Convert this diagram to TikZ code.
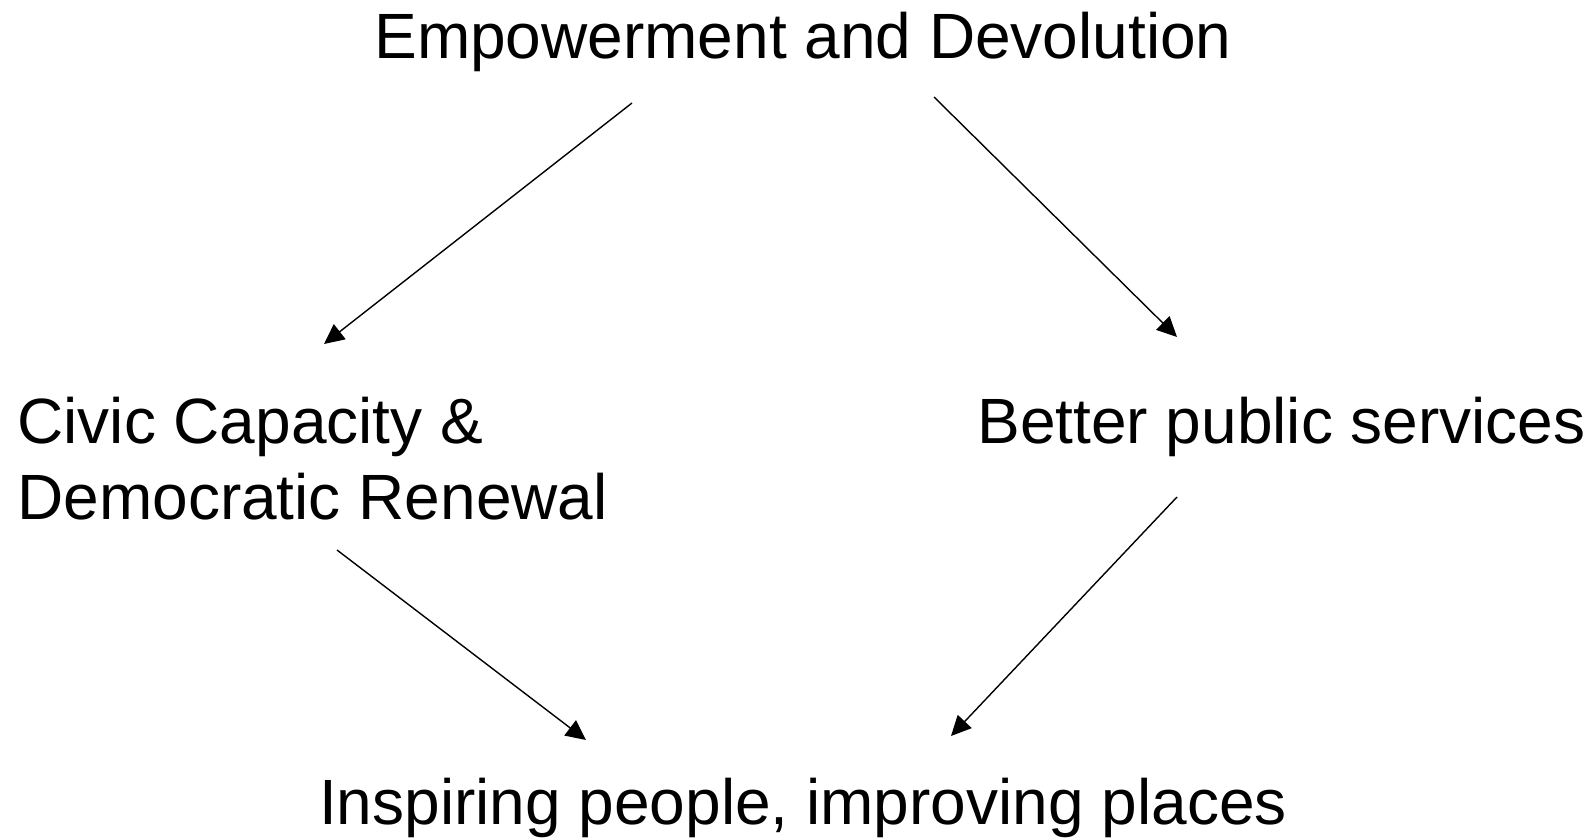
\documentclass[tikz,border=0pt]{standalone}
\usepackage{fontspec}
\setmainfont{Liberation Sans}
\usetikzlibrary{arrows.meta}
\begin{document}
\begin{tikzpicture}[x=0.5pt,y=-0.5pt,
  lbl/.style={inner sep=0pt, font=\fontsize{32}{38}\selectfont},
  conn/.style={line width=0.7pt, -{Triangle[length=10pt,width=9.5pt]}}]
\useasboundingbox (0,0) rectangle (1596,840);
\node[lbl, anchor=base] (top) at (803,59) {Empowerment and Devolution};
\node[lbl, anchor=base west, align=left] (civic) at (17,519) {Civic Capacity \&\\Democratic Renewal};
\node[lbl, anchor=base west] (better) at (977,443) {Better public services};
\node[lbl, anchor=base] (insp) at (803,824) {Inspiring people, improving places};
\coordinate (a1) at (632,103); \coordinate (a2) at (324,344);
\coordinate (b1) at (934,97);  \coordinate (b2) at (1177,337);
\coordinate (c1) at (337,550); \coordinate (c2) at (586,740);
\coordinate (d1) at (1177,497); \coordinate (d2) at (951,736);
\draw[conn] (a1) -- (a2);
\draw[conn] (b1) -- (b2);
\draw[conn] (c1) -- (c2);
\draw[conn] (d1) -- (d2);
\end{tikzpicture}
\end{document}
